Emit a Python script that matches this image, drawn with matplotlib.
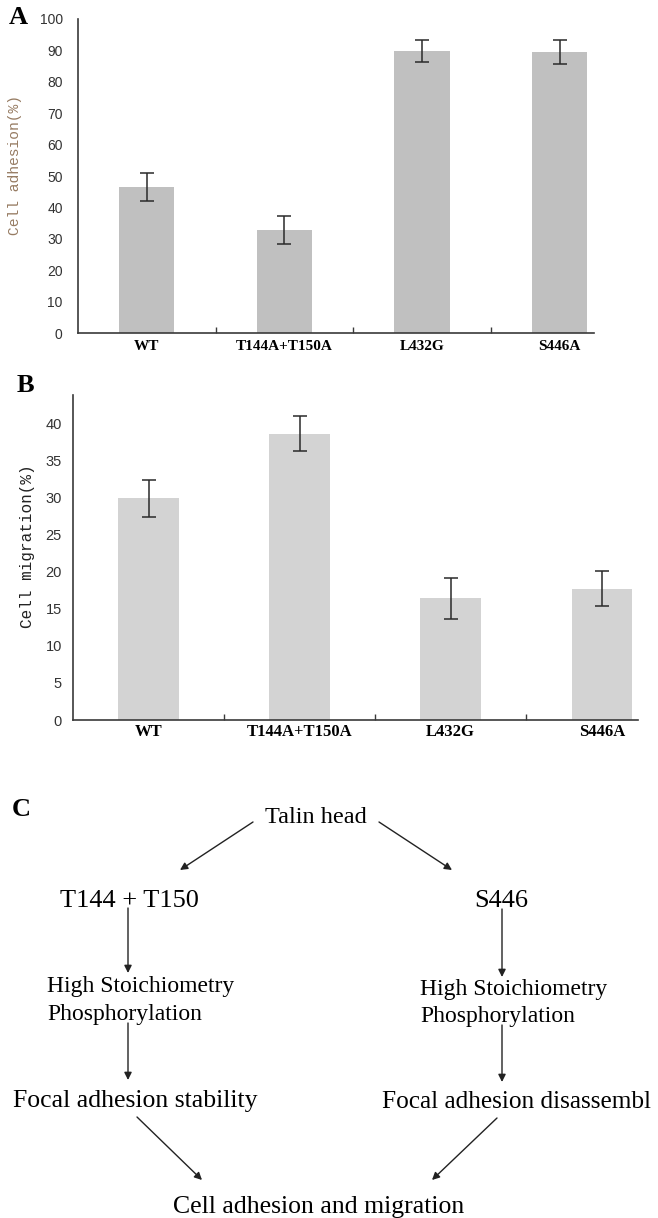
import numpy as np
import matplotlib
matplotlib.use('Agg')
import matplotlib.pyplot as plt
from matplotlib.ticker import FixedLocator

# Data
genotypes = ['WT', 'T144A+T150A', 'L432G', 'S446A']
adhesion = [46.5, 32.8, 89.8, 89.4]
adhesion_err = [4.5, 4.6, 3.5, 3.8]
migration = [29.9, 38.6, 16.4, 17.7]
migration_err = [2.5, 2.4, 2.8, 2.4]

W, H = 658, 1218
SERIF = 'Liberation Serif'
MONO = 'Liberation Mono'
AXIS_COL = '#3a3a3a'

fig = plt.figure(figsize=(W / 100, H / 100), dpi=100)

# overlay axes in pixel coordinates for labels and the scheme (panel C)
ov = fig.add_axes([0, 0, 1, 1], zorder=0)
ov.set_xlim(0, W)
ov.set_ylim(H, 0)
ov.axis('off')


def bar_panel(rect, vals, errs, color, ylim, yticks, ylabel, ylab_color,
              ylab_size, tick_size, xlab_size, ytick_pad, xtick_pad, xmax, ylab_xy):
    ax = fig.add_axes(rect, zorder=2)
    ax.patch.set_alpha(0)
    x = np.arange(len(genotypes))
    ax.bar(x, vals, width=0.4, color=color, zorder=2)
    ax.errorbar(x, vals, yerr=errs, fmt='none', ecolor='#2a2a2a',
                elinewidth=1.1, capsize=5, capthick=1.1, zorder=3)
    ax.set_xlim(-0.5, xmax)
    ax.set_ylim(*ylim)
    ax.set_yticks(yticks)
    ax.set_xticks(x)
    ax.set_xticklabels(genotypes, family=SERIF, fontweight='bold', fontsize=xlab_size)
    ax.xaxis.set_minor_locator(FixedLocator([0.5, 1.5, 2.5]))
    ax.tick_params(axis='x', which='major', length=0, pad=xtick_pad)
    ax.tick_params(axis='x', which='minor', direction='in', length=4,
                   width=1, color=AXIS_COL)
    ax.tick_params(axis='y', length=0, pad=ytick_pad, labelsize=tick_size,
                   labelcolor='#333333')
    for lab in ax.get_yticklabels():
        lab.set_family('Liberation Sans')
    for s in ['top', 'right']:
        ax.spines[s].set_visible(False)
    for s in ['left', 'bottom']:
        ax.spines[s].set_color(AXIS_COL)
        ax.spines[s].set_linewidth(1.2)
    ax.set_ylabel(ylabel, family=MONO, fontsize=ylab_size, color=ylab_color)
    ax.yaxis.set_label_coords(*ylab_xy)
    return ax


# Panel A
bar_panel([78 / W, 1 - 333 / H, 516 / W, 314 / H], adhesion, adhesion_err,
          '#c0c0c0', (0, 100), np.arange(0, 101, 10), 'Cell adhesion(%)',
          '#967b62', 10.5, 10, 11, 11, 5, 3.25, (-0.108, 0.535))

# Panel B
bar_panel([73 / W, 1 - 720 / H, 565 / W, 325 / H], migration, migration_err,
          '#d3d3d3', (0, 43.8), np.arange(0, 41, 5), 'Cell migration(%)',
          '#222222', 11.5, 10.5, 12, 8, 3, 3.24, (-0.068, 0.535))

# Panel letters
for lab, px, py in [('A', 18, 17), ('B', 25, 385), ('C', 21, 810)]:
    ov.text(px, py, lab, family=SERIF, fontweight='bold', fontsize=19,
            ha='center', va='center')

# Panel C scheme
ov.text(316, 823, 'Talin head', family=SERIF, fontsize=17.5, ha='center', va='baseline')
ov.text(129, 907, 'T144 + T150', family=SERIF, fontsize=19, ha='center', va='baseline')
ov.text(501, 907, 'S446', family=SERIF, fontsize=19, ha='center', va='baseline')
ov.text(47, 992, 'High Stoichiometry', family=SERIF, fontsize=17, ha='left', va='baseline')
ov.text(47, 1020, 'Phosphorylation', family=SERIF, fontsize=17, ha='left', va='baseline')
ov.text(420, 995, 'High Stoichiometry', family=SERIF, fontsize=17, ha='left', va='baseline')
ov.text(420, 1022, 'Phosphorylation', family=SERIF, fontsize=17, ha='left', va='baseline')
ov.text(13, 1107, 'Focal adhesion stability', family=SERIF, fontsize=18.5, ha='left', va='baseline')
ov.text(382, 1108, 'Focal adhesion disassembl', family=SERIF, fontsize=18.2, ha='left', va='baseline')
ov.text(319, 1213, 'Cell adhesion and migration', family=SERIF, fontsize=18.5, ha='center', va='baseline')

arrows = [((253, 822), (180, 870)),
          ((379, 822), (452, 870)),
          ((128, 908), (128, 973)),
          ((502, 909), (502, 977)),
          ((128, 1023), (128, 1080)),
          ((502, 1025), (502, 1082)),
          ((137, 1117), (202, 1180)),
          ((497, 1118), (432, 1180))]
for start, end in arrows:
    ov.annotate('', xy=end, xytext=start,
                arrowprops=dict(arrowstyle='-|>', color='#222222', lw=1.0,
                                mutation_scale=11, shrinkA=0, shrinkB=0))

fig.savefig('out.png', dpi=100)
